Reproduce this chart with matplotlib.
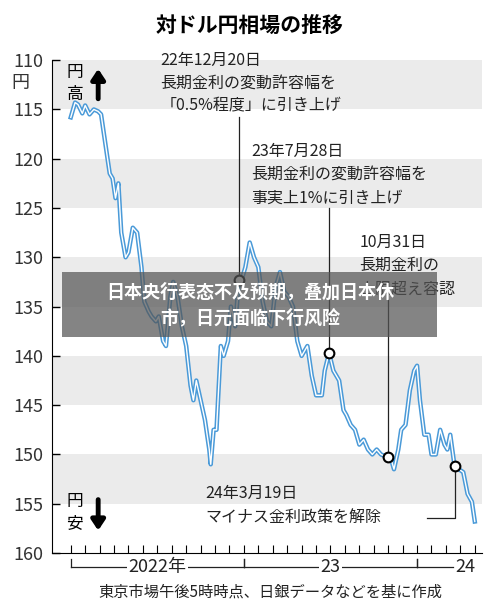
import matplotlib
matplotlib.use("Agg")
import matplotlib.pyplot as plt

plt.rcParams['font.family'] = ['Noto Sans CJK JP', 'DejaVu Sans']

months = [0,0.3,0.5,0.8,1.0,1.3,1.6,1.9,2.1,2.4,2.7,2.9,3.1,3.3,3.5,3.8,4.0,4.3,4.6,4.9,5.1,5.4,5.6,5.9,6.1,6.4,6.6,6.9,7.1,7.4,7.7,8.0,8.3,8.5,8.7,9.0,9.3,9.6,9.7,9.9,10.1,10.4,10.6,10.9,11.1,11.4,11.65,11.9,12.1,12.4,12.7,13.0,13.3,13.6,13.9,14.2,14.5,14.8,15.1,15.4,15.7,16.0,16.4,16.7,17.0,17.4,17.6,17.9,18.2,18.6,18.9,19.1,19.4,19.7,20.0,20.3,20.6,20.9,21.2,21.5,21.97,22.2,22.4,22.7,22.9,23.2,23.5,23.8,24.0,24.2,24.5,24.8,25.0,25.3,25.6,25.9,26.1,26.3,26.6,26.9,27.2,27.5,27.8,28.0]
rate = [115.8,114.3,114.5,115.4,114.6,115.5,115.0,115.2,115.5,118.5,121.5,122.0,124.0,122.5,127.5,130.0,129.5,127.0,127.5,131.0,134.5,135.5,136.0,136.5,136.0,138.5,139.0,134.0,132.5,134.0,137.0,139.0,143.0,144.5,142.5,144.5,146.5,149.5,151.0,147.5,147.5,139.0,140.0,138.5,135.0,137.0,132.3,132.0,131.0,128.5,130.0,131.0,134.5,136.5,137.0,133.0,131.5,133.5,134.0,135.0,138.5,140.0,139.0,142.0,144.0,144.0,141.5,139.7,141.5,142.5,145.5,146.0,147.0,147.5,149.0,148.5,149.5,150.0,149.5,150.0,150.3,150.5,151.5,149.5,147.5,147.0,143.5,141.5,141.0,144.5,148.0,148.0,150.0,150.0,147.5,149.0,149.5,148.0,151.2,151.5,151.8,154.0,154.8,156.8]
events_m = [11.65, 17.9, 21.97, 26.6]
events_v = [132.3, 139.7, 150.3, 151.2]
yticks = [110,115,120,125,130,135,140,145,150,155,160]

fig = plt.figure(figsize=(5,6.1), dpi=100)
ax = fig.add_axes([0.104,0.0934,0.86,0.808])
ax.set_xlim(-1.3,28.5); ax.set_ylim(160,110)
for y0 in [110,120,130,140,150]:
    ax.axhspan(y0, y0+5, color='#ebebeb', lw=0, zorder=0)
ax.plot(months, rate, color='#4a9ad8', lw=3.2, zorder=2)
ax.plot(months, rate, color='white', lw=1.0, zorder=3)
ax.set_yticks(yticks)
ax.set_yticklabels([str(v) for v in yticks], fontsize=13, color='#333')
ax.tick_params(axis='y', length=6, width=1, direction='in', pad=6)
ax.set_xticks(range(0,29))
ax.set_xticklabels([])
ax.tick_params(axis='x', length=6, direction='in')
for s in ['top','right']: ax.spines[s].set_visible(False)
ax.text(-3.5,112.3,'円',fontsize=13,ha='center',va='center',color='#333',clip_on=False)
ax.text(-0.3,111.3,'円',fontsize=12,va='center'); ax.text(-0.3,113.5,'高',fontsize=12,va='center')
ax.annotate('',xy=(1.9,110.6),xytext=(1.9,114.2),arrowprops=dict(arrowstyle='-|>,head_width=0.4,head_length=0.6',color='black',lw=3.5))
ax.text(-0.3,154.8,'円',fontsize=12,va='center'); ax.text(-0.3,157.0,'安',fontsize=12,va='center')
ax.annotate('',xy=(1.9,158.0),xytext=(1.9,154.3),arrowprops=dict(arrowstyle='-|>,head_width=0.4,head_length=0.6',color='black',lw=3.5))

for m,v in zip(events_m, events_v):
    ax.plot(m, v, 'o', ms=7, mfc='white', mec='black', mew=1.5, zorder=5)
kw = dict(fontsize=11.5, color='#222', va='center')
ax.text(6.2,110.0,'22年12月20日',**kw); ax.text(6.2,112.3,'長期金利の変動許容幅を',**kw); ax.text(6.2,114.6,'「0.5%程度」に引き上げ',**kw)
ax.plot([events_m[0]]*2,[115.8,events_v[0]],color='#222',lw=0.9,zorder=4)
ax.text(12.5,119.3,'23年7月28日',**kw); ax.text(12.5,121.6,'長期金利の変動許容幅を',**kw); ax.text(12.5,124.0,'事実上1%に引き上げ',**kw)
ax.plot([events_m[1]]*2,[125.0,events_v[1]],color='#222',lw=0.9,zorder=4)
ax.text(20.0,128.5,'10月31日',**kw); ax.text(20.0,130.8,'長期金利の',**kw); ax.text(20.0,133.2,'上限超え容認',**kw)
ax.plot([events_m[2]]*2,[134.2,events_v[2]],color='#222',lw=0.9,zorder=4)
ax.text(9.3,154.0,'24年3月19日',**kw); ax.text(9.3,156.4,'マイナス金利政策を解除',**kw)
ax.plot([24.7,events_m[3],events_m[3]],[156.4,156.4,events_v[3]],color='#222',lw=0.9,zorder=4)

# year brackets
def yl(x): return fig.transFigure.inverted().transform(ax.transData.transform((x,160)))[0]
yb = 1-567/610
for a,b,lab in [(0,12,'2022年'),(12,24,'23')]:
    xa, xb = yl(a), yl(b)
    fig.add_artist(plt.Line2D([xa,xb],[yb,yb],color='#222',lw=0.9))
    fig.add_artist(plt.Line2D([xa,xa],[yb,yb+0.013],color='#222',lw=0.9))
    fig.add_artist(plt.Line2D([xb,xb],[yb,yb+0.013],color='#222',lw=0.9))
    fig.text((xa+xb)/2,yb,lab,fontsize=13,ha='center',va='center',color='#222',bbox=dict(fc='white',ec='none',pad=1))
xa = yl(24)
fig.add_artist(plt.Line2D([xa,0.905],[yb,yb],color='#222',lw=0.9))
fig.add_artist(plt.Line2D([xa,xa],[yb,yb+0.013],color='#222',lw=0.9))
fig.text(0.91,yb,'24',fontsize=13,ha='left',va='center',color='#222')
fig.text(0.54,1-592/610,'東京市場午後5時時点、日銀データなどを基に作成',fontsize=11,ha='center',va='center',color='#222')
fig.text(0.5,1-25/610,'対ドル円相場の推移',fontsize=15,fontweight='bold',ha='center',va='center')

# overlay banner
fig.add_artist(plt.Rectangle((62/500,1-337/610),375/500,65/610,transform=fig.transFigure,fc='#555555',alpha=0.72,ec='none',zorder=10))
fig.text(0.5,1-292/610,'日本央行表态不及预期，叠加日本休',fontsize=13,fontweight='bold',color='white',ha='center',va='center',family=['Noto Sans CJK SC','DejaVu Sans'],zorder=11)
fig.text(0.5,1-318/610,'市，日元面临下行风险',fontsize=13,fontweight='bold',color='white',ha='center',va='center',family=['Noto Sans CJK SC','DejaVu Sans'],zorder=11)
fig.savefig('out.png',dpi=100)
